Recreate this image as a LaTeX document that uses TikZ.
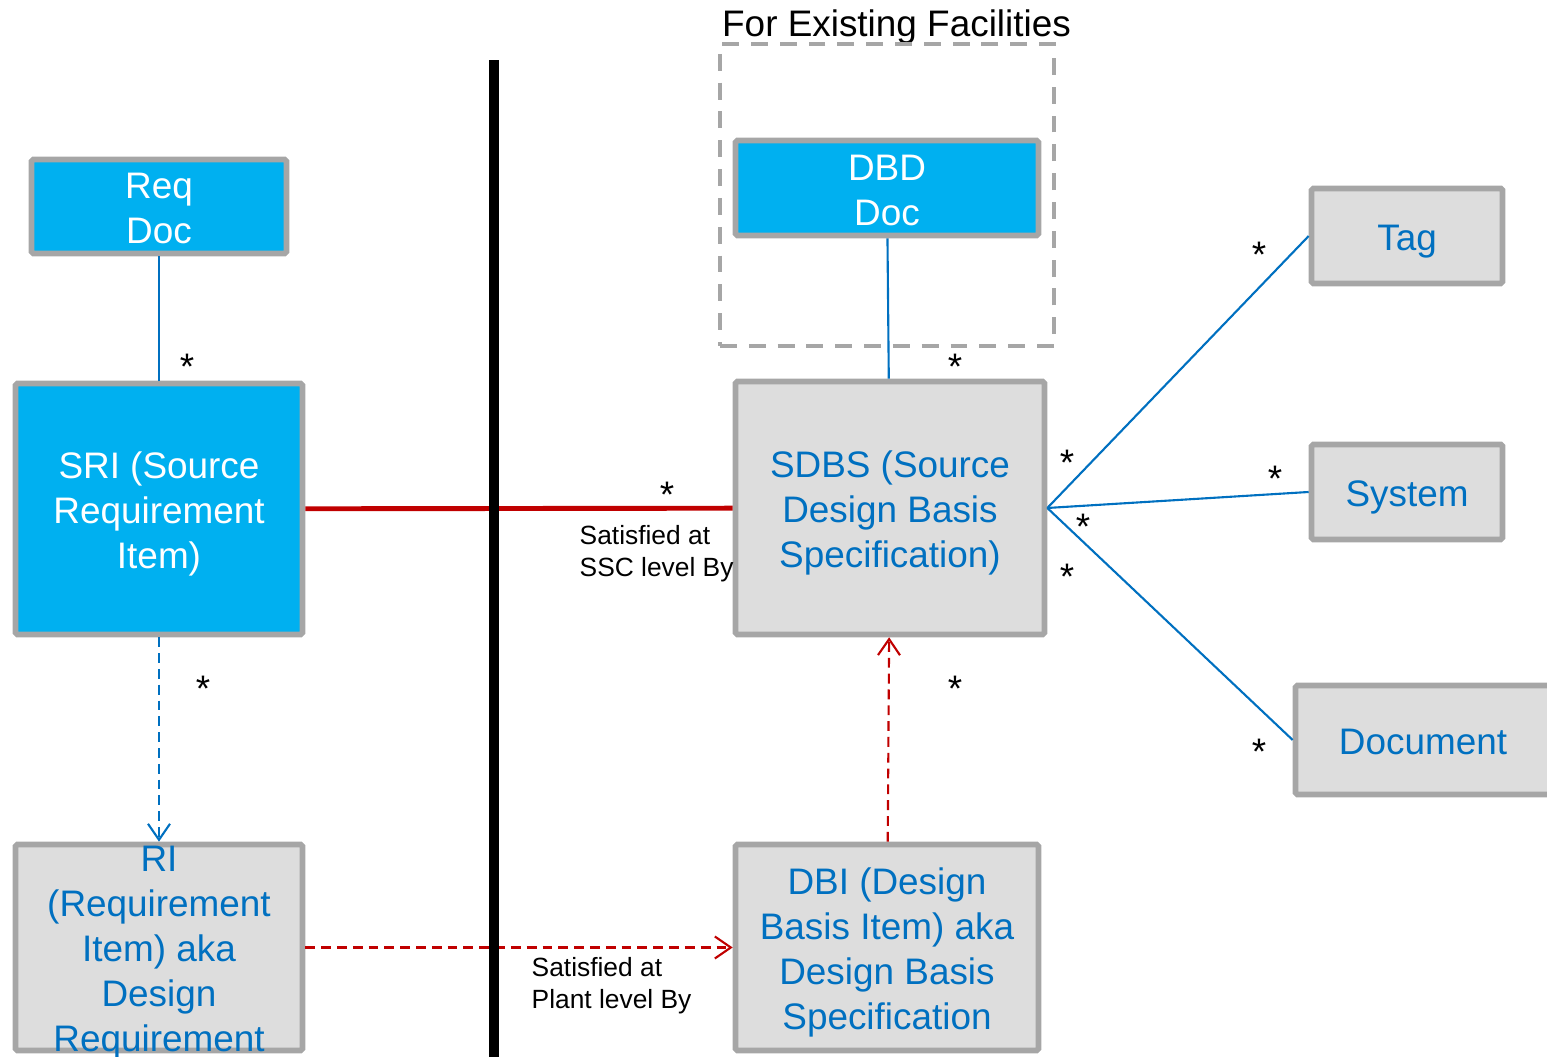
\documentclass[tikz,border=0pt]{standalone}
\usepackage{fontspec}
\setmainfont{Liberation Sans}
\usetikzlibrary{arrows.meta}

\definecolor{skyfill}{HTML}{00B0F0}
\definecolor{itemfill}{HTML}{DDDDDD}
\definecolor{boxgray}{HTML}{A6A6A6}
\definecolor{linkblue}{HTML}{0070C0}
\definecolor{linkred}{HTML}{C00000}
\newcommand\linestrut{\rule[-0.212em]{0pt}{1.117em}}
\newcommand\firstline[1][10.2pt]{\rule{0pt}{#1}}

\begin{document}
\begin{tikzpicture}[>={Straight Barb[length=1.6mm,width=2.2mm]},
 font=\fontsize{10.5}{12.8}\selectfont,
 boxbase/.style={draw=boxgray,line width=1.6pt,rounded corners=0.5pt,align=center,inner sep=0pt},
 oneline/.style={execute at begin node=\rule[-0.212em]{0pt}{1.217em},execute at end node=\linestrut},
 docbox/.style={boxbase,fill=skyfill,text=white},
 itembox/.style={boxbase,fill=itemfill,text=linkblue},
 itemtext/.style={text=linkblue,align=center,inner sep=0pt},
 grpbox/.style={draw=boxgray,line width=1.1pt,dash pattern=on 4.8pt off 3.4pt,inner sep=0pt},
 note/.style={font=\fontsize{7.5}{9.1}\selectfont,align=left,inner sep=0pt,anchor=west},
 mult/.style={inner sep=0pt,yshift=-0.05cm},
 blueline/.style={draw=linkblue,line width=0.6pt},
 redline/.style={draw=linkred,line width=1.4pt},
 bluedash/.style={draw=linkblue,line width=0.6pt,dash pattern=on 2.8pt off 1.7pt},
 reddash/.style={draw=linkred,line width=0.6pt,dash pattern=on 2.8pt off 1.7pt}]
\useasboundingbox (0,0) rectangle (15.47,10.57);
% left side: requirements
\node[docbox,minimum width=2.55cm,minimum height=0.94cm] (reqdoc) at (1.59,8.505) {\firstline[8.6pt]Req\\Doc};
\node[docbox,minimum width=2.87cm,minimum height=2.51cm] (sri) at (1.59,5.48) {\firstline SRI (Source\\Requirement\\Item)};
\node[itembox,minimum width=2.87cm,minimum height=2.06cm] (ri) at (1.59,1.095) {};
\node[itemtext] (ritext) at (ri.center) {\firstline RI\\(Requirement\\Item) aka\\Design\\Requirement};
% right side: design basis
\node[anchor=base] (existtitle) at (8.965,10.20) {For Existing Facilities};
\node[grpbox,minimum width=3.34cm,minimum height=3.02cm] (existing) at (8.87,8.62) {};
\node[docbox,minimum width=3.03cm,minimum height=0.95cm] (dbd) at (8.87,8.69) {\firstline[8.6pt]DBD\\Doc};
\node[itembox,minimum width=3.09cm,minimum height=2.53cm] (sdbs) at (8.90,5.49) {\firstline SDBS (Source\\Design Basis\\Specification)};
\node[itembox,minimum width=3.03cm,minimum height=2.06cm] (dbi) at (8.87,1.095) {\firstline DBI (Design\\Basis Item) aka\\Design Basis\\Specification};
\node[itembox,oneline,minimum width=1.91cm,minimum height=0.95cm] (tag) at (14.07,8.21) {Tag};
\node[itembox,oneline,minimum width=1.91cm,minimum height=0.95cm] (system) at (14.07,5.65) {System};
\node[itembox,oneline,minimum width=2.55cm,minimum height=1.09cm] (document) at (14.23,3.17) {Document};
% links
\draw[blueline] (reqdoc) -- (sri);
\draw[blueline] (dbd) -- (sdbs);
\draw[redline] (sri) -- (sdbs);
\draw[bluedash,->] (sri) -- (ri);
\draw[reddash,->] (ri) -- (dbi);
\draw[reddash,->] (dbi) -- (sdbs);
\draw[blueline] (sdbs.east) -- (tag.west);
\draw[blueline] (sdbs.east) -- (system.west);
\draw[blueline] (sdbs.east) -- (document.west);
\node[note] (ssclbl) at (5.79,5.03) {Satisfied at\\SSC level By};
\node[note] (plantlbl) at (5.31,0.71) {Satisfied at\\Plant level By};
% multiplicities
\node[mult] (m1) at (1.87,6.95) {*};
\node[mult] (m2) at (9.55,6.95) {*};
\node[mult] (m3) at (6.67,5.67) {*};
\node[mult] (m4) at (2.03,3.73) {*};
\node[mult] (m5) at (9.55,3.73) {*};
\node[mult] (m6) at (10.67,5.99) {*};
\node[mult] (m7) at (10.83,5.35) {*};
\node[mult] (m8) at (10.67,4.85) {*};
\node[mult] (m9) at (12.59,8.07) {*};
\node[mult] (m10) at (12.75,5.83) {*};
\node[mult] (m11) at (12.59,3.10) {*};
% divider
\draw[line width=2.85pt] (4.94,0) -- (4.94,9.97);
\end{tikzpicture}
\end{document}
